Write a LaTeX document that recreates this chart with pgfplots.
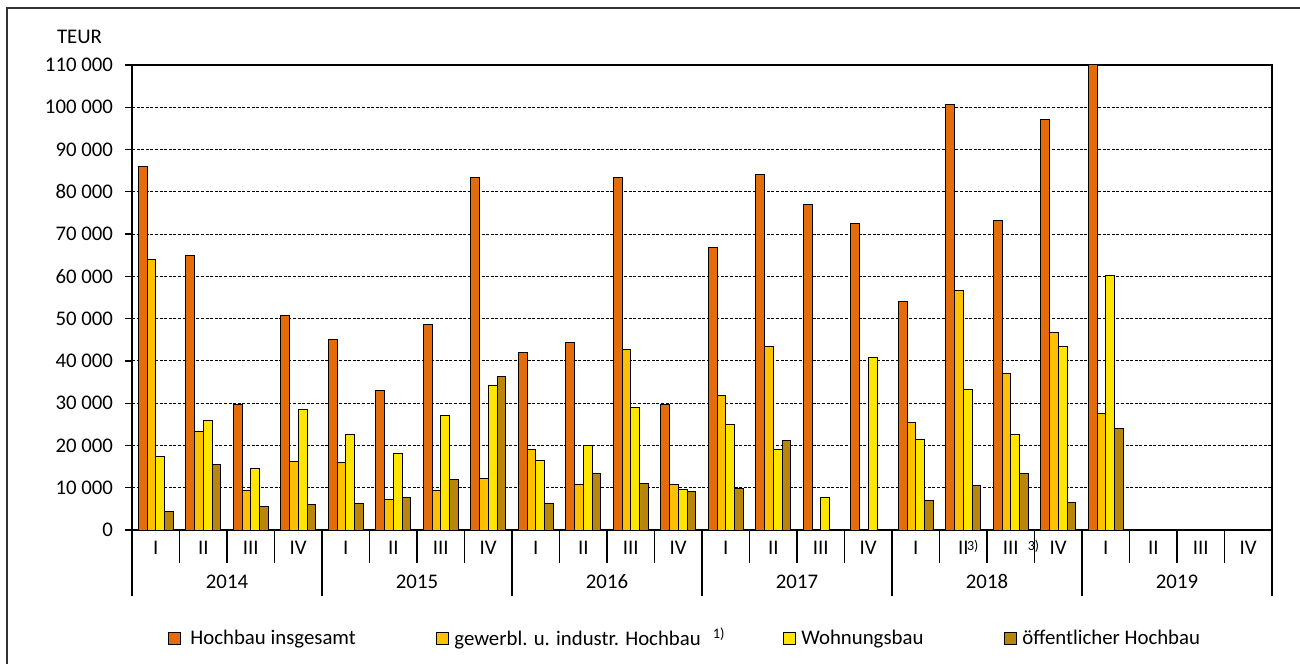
\documentclass[border=0pt]{standalone}
\usepackage{fontspec}
\setmainfont{Carlito}
\usepackage{pgfplots}
\pgfplotsset{compat=1.18}
\definecolor{cHoch}{HTML}{E46C0A}
\definecolor{cGew}{HTML}{FFC000}
\definecolor{cWohn}{HTML}{FFE600}
\definecolor{cOeff}{HTML}{B8860B}
\pgfplotsset{/pgfplots/ybar legend/.style={/pgfplots/legend image code/.code={\draw[##1, draw=black, line width=0.5pt] (0pt,-3pt) rectangle (6pt,3pt);}}}
\begin{document}
\begin{tikzpicture}[x=1pt,y=1pt,font=\fontsize{10.4pt}{12.5pt}\selectfont]
\useasboundingbox (0,0) rectangle (650,332);
\draw[line width=0.6pt, black!80] (3.5,0) -- (3.5,328) -- (650,328);
\node at (39.75,313.5) {TEUR};
\begin{axis}[
  at={(66pt,67pt)}, anchor=south west,
  scale only axis, width=570pt, height=232.5pt,
  ybar=0pt, bar width=4.375pt,
  xmin=-0.5, xmax=23.5, ymin=0, ymax=110000,
  clip=false,
  axis line style={black, line width=0.6pt},
  ytick={0,10000,...,110000},
  scaled y ticks=false,
  ytick pos=left,
  tick align=outside,
  major tick length=3.5pt,
  ytick style={black, line width=0.6pt},
  xtick={0,...,23},
  xtick style={draw=none},
  xticklabels={I,II,III,IV,I,II,III,IV,I,II,III,IV,I,II,III,IV,I,II,III,IV,I,II,III,IV},
  xticklabel style={anchor=center, yshift=-5.5pt},
  yticklabel style={anchor=east, xshift=-2.5pt},
  /pgf/number format/.cd, fixed, precision=0, 1000 sep={\ }, assume math mode=true, /pgfplots/.cd,
  ymajorgrids,
  major grid style={dash pattern=on 1.5pt off 0.8pt, line width=0.5pt, black},
  every axis plot/.append style={draw=black, line width=0.5pt},
  legend columns=4,
  legend style={at={(0.0316,-0.2333)}, anchor=west, draw=none, fill=none, inner sep=0pt,
    nodes={inner sep=0pt, anchor=west},
    /tikz/every odd column/.style={column sep=2.5pt}},
]
\addplot[fill=cHoch] coordinates {(0,86100) (1,64900) (2,29600) (3,50800) (4,45000) (5,32900) (6,48500) (7,83300) (8,41900) (9,44300) (10,83300) (11,29600) (12,66800) (13,84200) (14,77100) (15,72400) (16,54100) (17,100600) (18,73300) (19,97000) (20,110000)};
\addplot[fill=cGew] coordinates {(0,64000) (1,23200) (2,9400) (3,16200) (4,16000) (5,7100) (6,9400) (7,12200) (8,19100) (9,10800) (10,42800) (11,10800) (12,31900) (13,43400) (16,25500) (17,56600) (18,37100) (19,46800) (20,27600)};
\addplot[fill=cWohn] coordinates {(0,17400) (1,26000) (2,14500) (3,28400) (4,22500) (5,18000) (6,27200) (7,34200) (8,16400) (9,19900) (10,29000) (11,9600) (12,25000) (13,19100) (14,7800) (15,40700) (16,21400) (17,33200) (18,22600) (19,43400) (20,60100)};
\addplot[fill=cOeff] coordinates {(0,4400) (1,15500) (2,5500) (3,6100) (4,6300) (5,7700) (6,11900) (7,36400) (8,6200) (9,13400) (10,11100) (11,9200) (12,9700) (13,21200) (16,7000) (17,10600) (18,13400) (19,6600) (20,24000)};
\addlegendentry{\makebox[125pt][l]{\hspace{2pt}Hochbau insgesamt}}
\addlegendentry{\makebox[164.5pt][l]{gewerbl. u. industr. Hochbau\hspace{6pt}\textsuperscript{1)}}}
\addlegendentry{\makebox[101.5pt][l]{Wohnungsbau}}
\addlegendentry{öffentlicher Hochbau}
\pgfplotsinvokeforeach{0.5,1.5,2.5,4.5,5.5,6.5,8.5,9.5,10.5,12.5,13.5,14.5,16.5,17.5,18.5,20.5,21.5,22.5}{
  \draw[black, line width=0.6pt] (axis cs:#1,0) -- ++(0pt,-16.5pt);
}
\pgfplotsinvokeforeach{-0.5,3.5,7.5,11.5,15.5,19.5,23.5}{
  \draw[black, line width=0.6pt] (axis cs:#1,0) -- ++(0pt,-33pt);
}
\node[yshift=-25.75pt] at (axis cs:1.5,0) {2014};
\node[yshift=-25.75pt] at (axis cs:5.5,0) {2015};
\node[yshift=-25.75pt] at (axis cs:9.5,0) {2016};
\node[yshift=-25.75pt] at (axis cs:13.5,0) {2017};
\node[yshift=-25.75pt] at (axis cs:17.5,0) {2018};
\node[yshift=-25.75pt] at (axis cs:21.5,0) {2019};
\node[font=\fontsize{7pt}{8pt}\selectfont, inner sep=0pt, yshift=-8pt] at (axis cs:17.2,0) {3)};
\node[font=\fontsize{7pt}{8pt}\selectfont, inner sep=0pt, yshift=-8pt] at (axis cs:18.48,0) {3)};
\end{axis}
\end{tikzpicture}
\end{document}
